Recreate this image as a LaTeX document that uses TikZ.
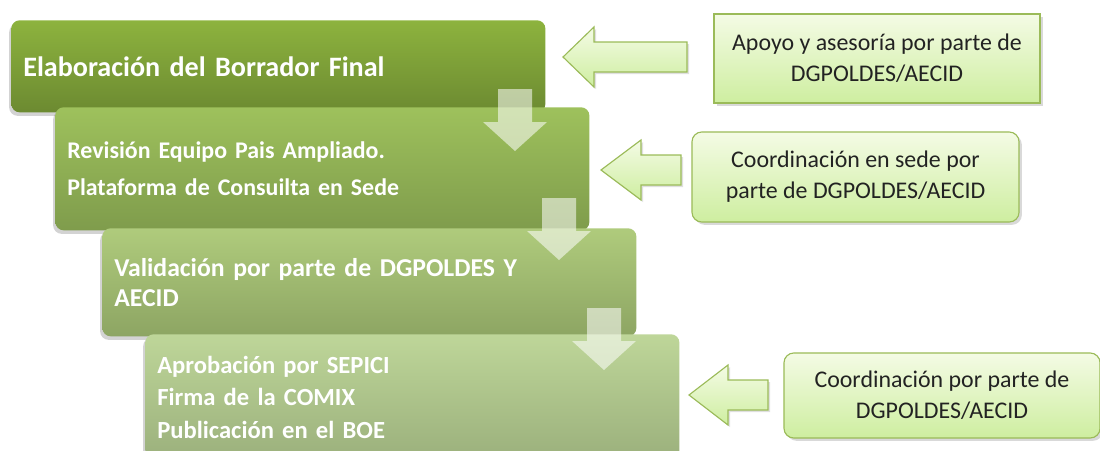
\documentclass[tikz,border=0pt]{standalone}
\usepackage{fontspec}
\setmainfont{Carlito}[BoldFeatures={WordSpace=0.75}]
\usetikzlibrary{shadows}
\definecolor{stageAtop}{RGB}{141,179,62}
\definecolor{stageAbot}{RGB}{108,138,49}
\definecolor{stageBtop}{RGB}{158,193,92}
\definecolor{stageBbot}{RGB}{127,156,76}
\definecolor{stageCtop}{RGB}{175,203,124}
\definecolor{stageCbot}{RGB}{141,165,99}
\definecolor{stageDtop}{RGB}{190,214,153}
\definecolor{stageDbot}{RGB}{155,176,124}
\definecolor{noteline}{RGB}{155,187,89}
\definecolor{notetop}{RGB}{244,251,229}
\definecolor{notebot}{RGB}{206,238,160}
\definecolor{notetext}{RGB}{34,34,34}

\tikzset{
  stagebox/.style={anchor=north west, rounded corners=6pt, minimum width=13.35cm,
    text width=12.75cm, inner xsep=0.3cm, align=left, text=white,
    drop shadow={opacity=0.35, shadow xshift=-1.5pt, shadow yshift=-2.5pt}},
  notebox/.style={draw=noteline, line width=0.8pt, top color=notetop, bottom color=notebot,
    align=center, text=notetext, font=\fontsize{17}{22}\selectfont,
    drop shadow={opacity=0.3, shadow xshift=2pt, shadow yshift=-2pt}},
  downarrow/.style={fill=white, fill opacity=0.55},
  leftarrow/.style={draw=noteline, line width=0.8pt, top color=notetop, bottom color=notebot,
    drop shadow={opacity=0.25, shadow xshift=1.5pt, shadow yshift=-1.5pt}}
}

\begin{document}
\begin{tikzpicture}[x=0.025cm,y=-0.025cm]
  \clip (0,0) rectangle (1100,450);

  % Stages
  \node[stagebox,top color=stageAtop,bottom color=stageAbot,minimum height=2.3cm,
        font=\bfseries\fontsize{20}{22}\selectfont] (borrador) at (11,20)
    {Elaboración del Borrador Final};
  \node[stagebox,top color=stageBtop,bottom color=stageBbot,minimum height=3.075cm,
        font=\bfseries\fontsize{17}{26}\selectfont] (revision) at (55,107)
    {Revisión Equipo Pais Ampliado.\\Plataforma de Consuilta en Sede};
  \node[stagebox,top color=stageCtop,bottom color=stageCbot,minimum height=2.7cm,
        font=\bfseries\fontsize{18.3}{21}\selectfont] (validacion) at (102,228)
    {Validación por parte de DGPOLDES Y\\AECID};
  \node[stagebox,top color=stageDtop,bottom color=stageDbot,minimum height=3.15cm,
        font=\bfseries\fontsize{17.5}{23}\selectfont] (aprobacion) at (145,334)
    {Aprobación por SEPICI\\Firma de la COMIX\\Publicación en el BOE};

  % Down arrows between stages
  \foreach \ax/\ay in {515/89, 559/198, 604/308}
    \fill[downarrow] (\ax-17,\ay) -- (\ax+17,\ay) -- (\ax+17,\ay+33) -- (\ax+32,\ay+33)
      -- (\ax,\ay+62) -- (\ax-32,\ay+33) -- (\ax-17,\ay+33) -- cycle;

  % Support notes
  \node[notebox,minimum width=8.15cm,minimum height=2.225cm] (apoyo) at (877,58.5)
    {Apoyo y asesoría por parte de\\DGPOLDES/AECID};
  \node[notebox,rounded corners=7pt,minimum width=8.175cm,minimum height=2.25cm] (sede) at (855.5,177)
    {Coordinación en sede por\\parte de DGPOLDES/AECID};
  \node[notebox,rounded corners=7pt,minimum width=7.9cm,minimum height=2.125cm] (coord) at (942,395.5)
    {Coordinación por parte de\\DGPOLDES/AECID};

  % Left arrows
  \foreach \tx/\ty/\bx/\rx in {563/57/594/687, 601/170/641/681, 689/395/728/768}
    \draw[leftarrow] (\tx,\ty) -- (\bx,\ty-30) -- (\bx,\ty-15) -- (\rx,\ty-15)
      -- (\rx,\ty+15) -- (\bx,\ty+15) -- (\bx,\ty+30) -- cycle;
\end{tikzpicture}
\end{document}
